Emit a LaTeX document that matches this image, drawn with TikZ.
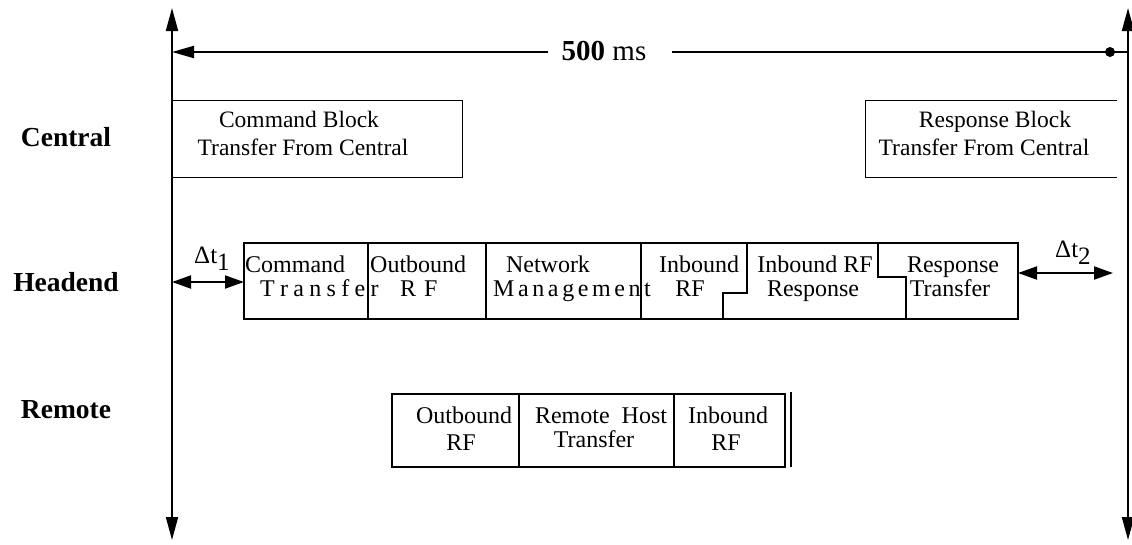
\documentclass[tikz,border=0pt]{standalone}
\usepackage{fontspec}
\setmainfont{Liberation Serif}
\usetikzlibrary{arrows.meta}
\newcommand\lspa{\kern5.3pt}
\newcommand\lspb{\kern3.6pt}
\begin{document}
\begin{tikzpicture}[x=1pt,y=-1pt,
  rowlabel/.style={font=\fontsize{27.5}{30}\selectfont\bfseries, anchor=base, inner sep=0pt},
  txt/.style={font=\fontsize{24}{27}\selectfont, anchor=base, inner sep=0pt},
  ctxt/.style={font=\fontsize{23.5}{27}\selectfont, anchor=base, inner sep=0pt},
  hbox/.style={line width=2pt},
  cbox/.style={line width=1pt},
  stepline/.style={line width=1.3pt},
  axisline/.style={line width=2pt, {Triangle[length=23pt,width=12pt]}-{Triangle[length=23pt,width=12pt]}},
  dtarrow/.style={line width=2pt, {Triangle[length=19pt,width=13pt]}-{Triangle[length=19pt,width=13pt]}},
  toparrow/.style={line width=2pt, {Triangle[length=22pt,width=12pt]}-},
]
\useasboundingbox (0,0) rectangle (1132,544);

% vertical time axes
\coordinate (lt) at (172,8);
\coordinate (lb) at (172,540);
\coordinate (rt) at (1128,8);
\coordinate (rb) at (1128,540);
\draw[axisline] (lb) -- (lt);
\draw[axisline] (rb) -- (rt);

% 500 ms span
\coordinate (tl) at (172,52);
\coordinate (tm1) at (548,52);
\coordinate (tm2) at (672,52);
\coordinate (tr) at (1128,52);
\node[txt, font=\fontsize{29}{32}\selectfont] (ms) at (604,60) {\textbf{500} ms};
\draw[toparrow] (tl) -- (tm1);
\draw[line width=2pt] (tm2) -- (tr);
\node[circle, fill, inner sep=0pt, minimum size=10pt] (dot) at (1110,52) {};

% row labels
\node[rowlabel] (central) at (66,146) {Central};
\node[rowlabel] (headend) at (66,291) {Headend};
\node[rowlabel] (remote) at (66,418) {Remote};

% central boxes
\draw[cbox] (172,100) rectangle (462,177);
\draw[cbox] (1117,100) -- (865,100) -- (865,177) -- (1117,177);
\node[ctxt] (cb1) at (299,127) {Command Block};
\node[ctxt] (cb2) at (303,155) {Transfer From Central};
\node[ctxt] (rb1) at (995,127) {Response Block};
\node[ctxt] (rb2) at (984,155) {Transfer From Central};

% headend
\draw[hbox] (244,243) rectangle (1018,319);
\draw[hbox] (368,243) -- (368,319);
\draw[hbox] (486,243) -- (486,319);
\draw[hbox] (641,243) -- (641,319);
\draw[stepline] (747,243) -- (747,293) -- (723,293) -- (723,319);
\draw[stepline] (878,243) -- (878,277) -- (906,277) -- (906,319);
\node[txt, anchor=base west] (h1) at (245,272) {Command};
\node[txt, anchor=base west] (h2) at (260,296) {T\lspa r\lspa a\lspa n\lspa s\lspa f\lspa e\lspa r};
\node[txt, anchor=base west] (h3) at (370,272) {Outbound};
\node[txt, anchor=base west] (h4) at (400,296) {R\kern8pt F};
\node[txt] (h5) at (548,272) {Network};
\node[txt, anchor=base west] (h6) at (493,296) {M\lspb a\lspb n\lspb a\lspb g\lspb e\lspb m\lspb e\lspb n\lspb t};
\node[txt] (h7) at (699,272) {Inbound};
\node[txt] (h8) at (690,296) {RF};
\node[txt] (h9) at (815,272) {Inbound RF};
\node[txt] (h10) at (813,296) {Response};
\node[txt] (h11) at (953,272) {Response};
\node[txt] (h12) at (950,296) {Transfer};

% delta t arrows
\coordinate (d1a) at (172,282);
\coordinate (d1b) at (244,282);
\draw[dtarrow] (d1a) -- (d1b);
\node[txt, font=\fontsize{25}{28}\selectfont, anchor=base west] (dt1) at (194,263) {Δt\raisebox{-7pt}{1}};
\coordinate (d2a) at (1018,273);
\coordinate (d2b) at (1113,273);
\draw[dtarrow] (d2a) -- (d2b);
\node[txt, font=\fontsize{25}{28}\selectfont, anchor=base west] (dt2) at (1055,257) {Δt\raisebox{-7pt}{2}};

% remote
\draw[hbox] (392,394) rectangle (785,467);
\draw[hbox] (519,394) -- (519,467);
\draw[hbox] (674,394) -- (674,467);
\draw[hbox] (791,392) -- (791,467);
\node[txt] (r1) at (464,423) {Outbound};
\node[txt] (r2) at (461,450) {RF};
\node[txt] (r3) at (601,423) {Remote\ \ Host};
\node[txt] (r4) at (594,447) {Transfer};
\node[txt] (r5) at (728,423) {Inbound};
\node[txt] (r6) at (726,450) {RF};
\end{tikzpicture}
\end{document}
